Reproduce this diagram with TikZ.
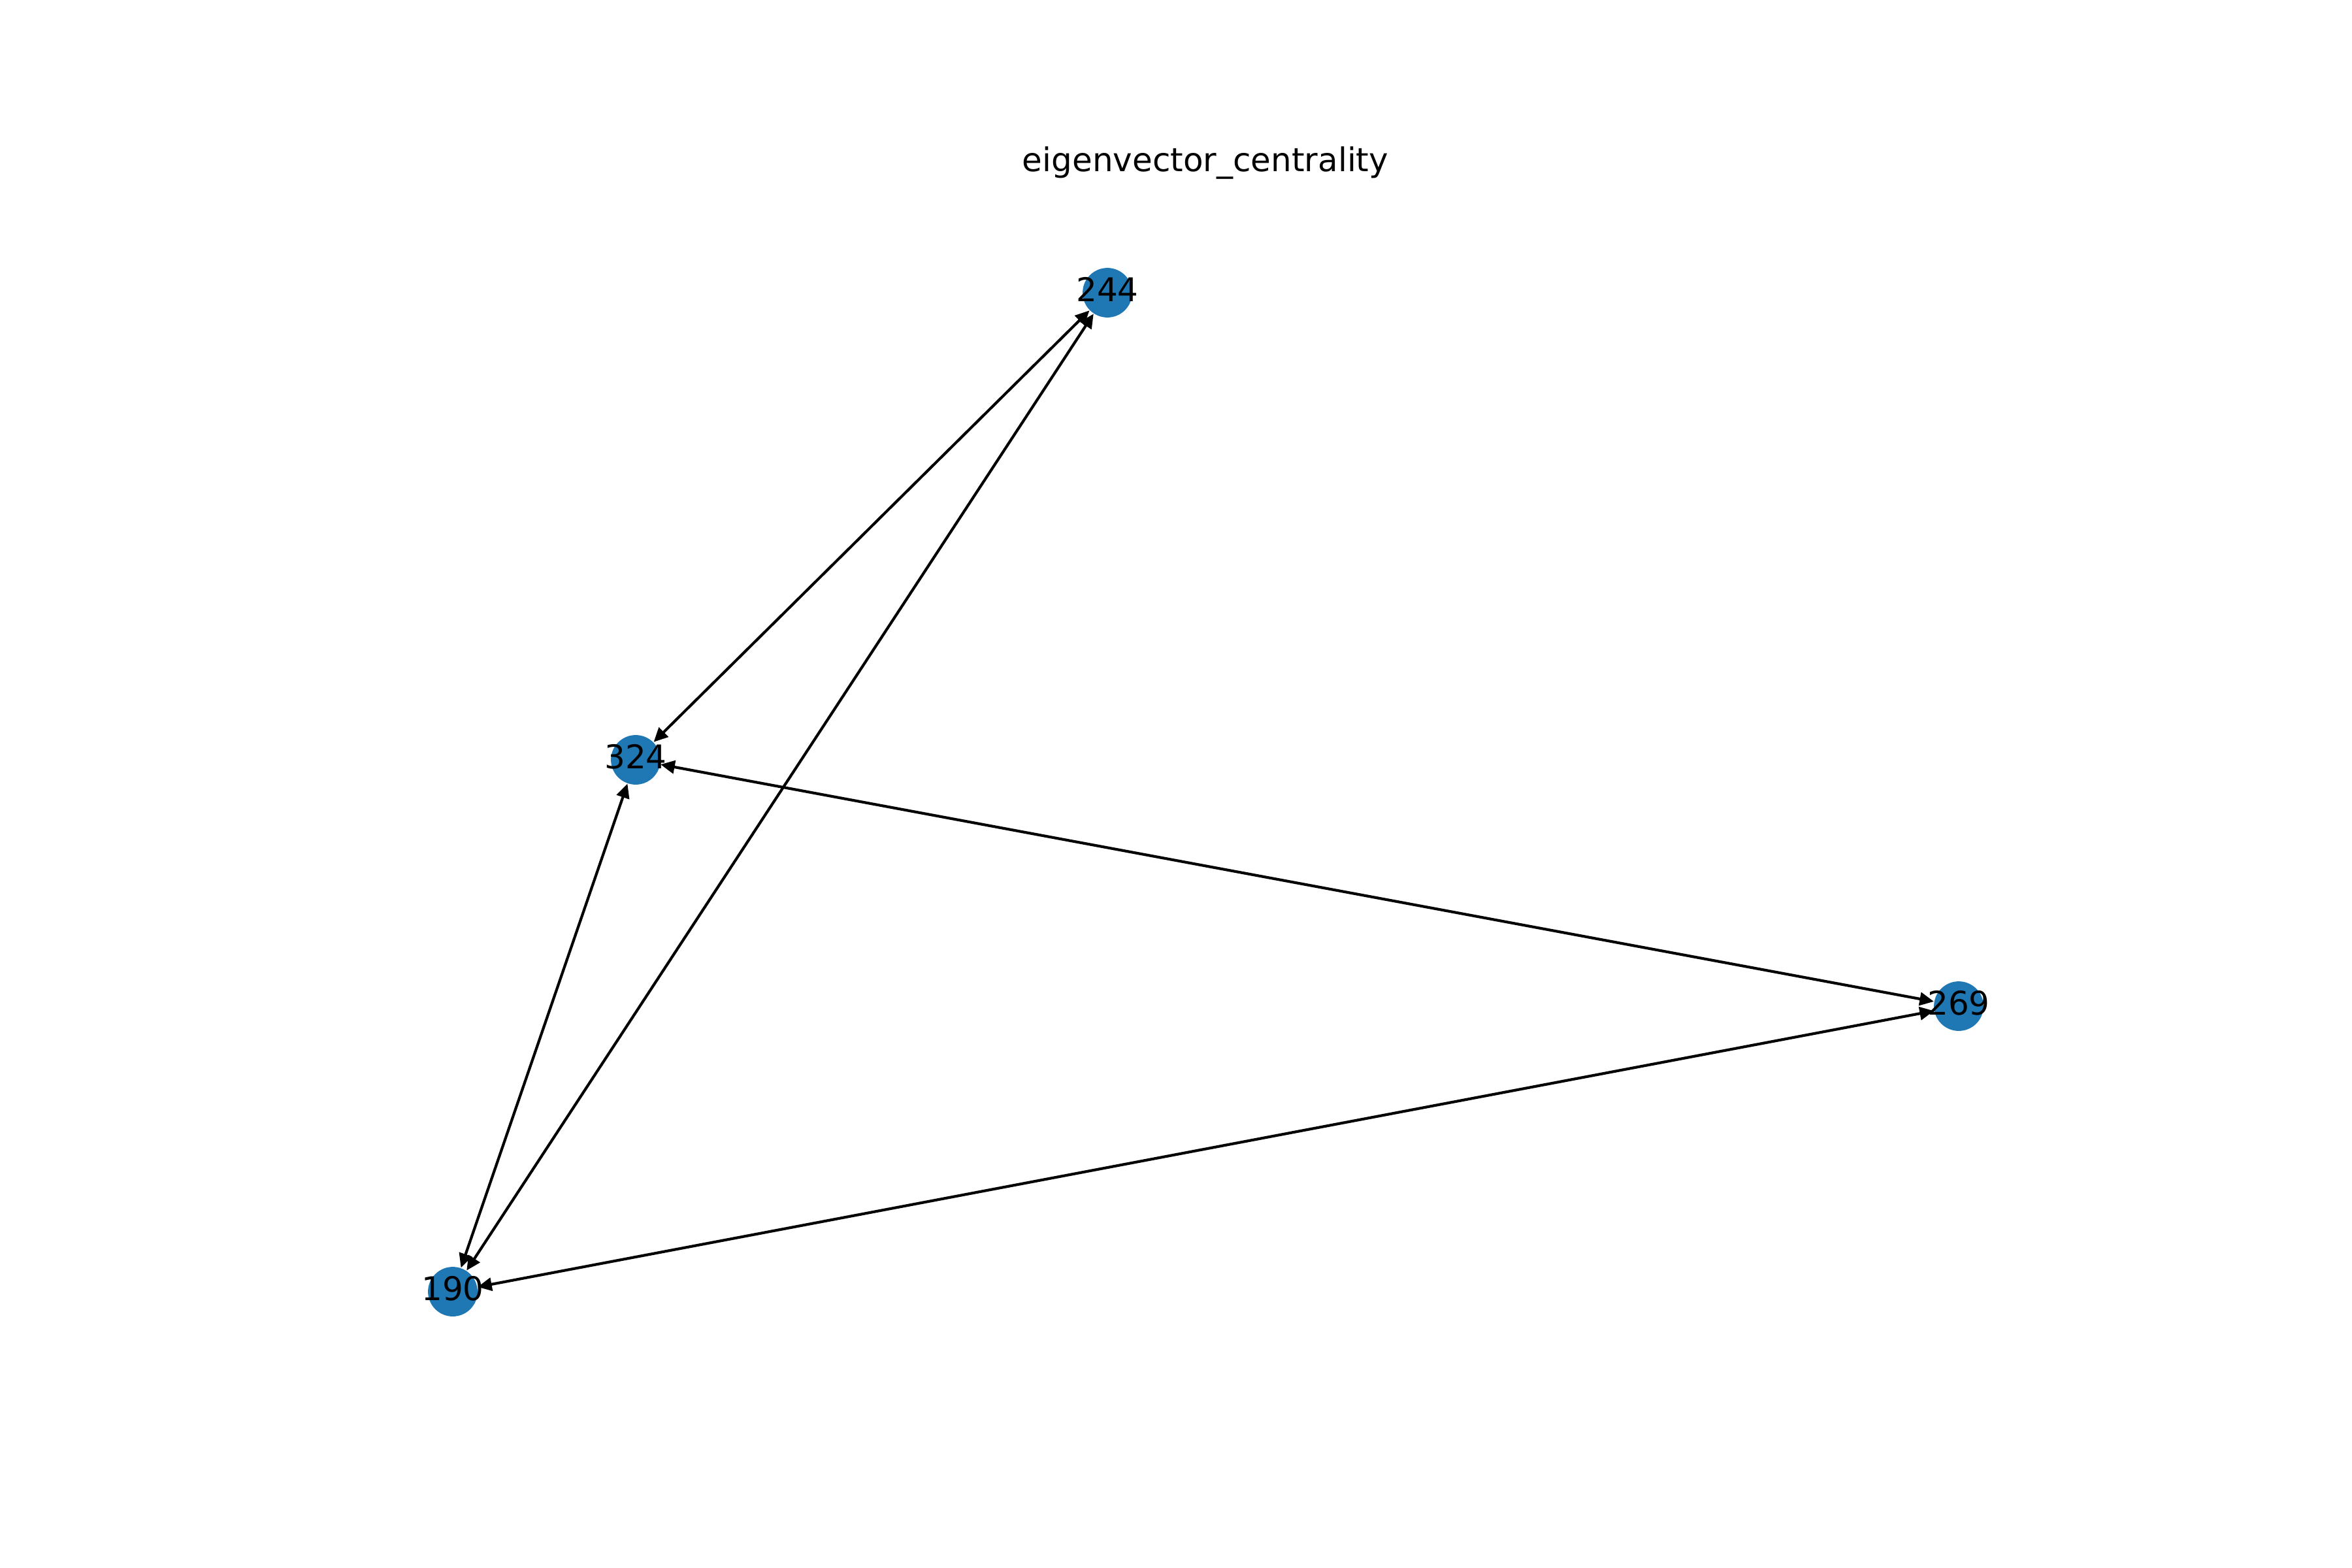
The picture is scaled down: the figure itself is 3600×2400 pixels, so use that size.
\documentclass[tikz,border=0pt]{standalone}
\usepackage{fontspec}
\setmainfont{DejaVu Sans}
\usetikzlibrary{arrows.meta}
\definecolor{nodeblue}{HTML}{1F77B4}
\begin{document}
\begin{tikzpicture}[x=0.24pt,y=-0.24pt,
  vtx/.style={circle,fill=nodeblue,draw=none,inner sep=0pt,minimum size=18.2pt,
    label={[font=\fontsize{12pt}{14pt}\selectfont,inner sep=0pt,yshift=1.2pt]center:#1}},
  edge/.style={line width=1pt,{Triangle[length=5.2pt,width=4.8pt]}-{Triangle[length=5.2pt,width=4.8pt]}}]
\useasboundingbox (0,0) rectangle (3600,2400);
\node[font=\fontsize{12pt}{14pt}\selectfont,anchor=base] (title) at (1845,263) {eigenvector\_centrality};
\node[vtx=244] (n244) at (1695,448) {};
\node[vtx=324] (n324) at (973,1163) {};
\node[vtx=269] (n269) at (2998,1540) {};
\node[vtx=190] (n190) at (693,1977) {};
\draw[edge] (n244) -- (n324);
\draw[edge] (n244) -- (n190);
\draw[edge] (n324) -- (n190);
\draw[edge] (n324) -- (n269);
\draw[edge] (n190) -- (n269);
\end{tikzpicture}
\end{document}
